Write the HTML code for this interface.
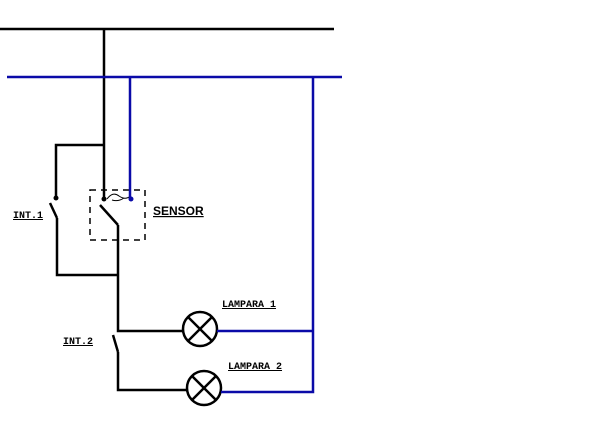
<!DOCTYPE html>
<html><head><style>body{margin:0;background:#fff}svg{display:block}</style></head><body>
<svg width="600" height="423" viewBox="0 0 600 423" xmlns="http://www.w3.org/2000/svg">
<g fill="none" stroke="#000" stroke-width="2.5">
<line x1="0" y1="29" x2="334" y2="29"/>
<line x1="104" y1="29" x2="104" y2="199"/>
<polyline points="104,145 56,145 56,198"/>
<line x1="50" y1="203" x2="57" y2="218"/>
<polyline points="57,218 57,275 118,275"/>
<line x1="100" y1="205" x2="118" y2="225"/>
<polyline points="118,225 118,331 183,331"/>
<line x1="113" y1="335" x2="118" y2="352"/>
<polyline points="118,352 118,390 187,390"/>
<circle cx="200" cy="329" r="17"/>
<line x1="188" y1="317" x2="212" y2="341"/>
<line x1="212" y1="317" x2="188" y2="341"/>
<circle cx="204" cy="388" r="17"/>
<line x1="192" y1="376" x2="216" y2="400"/>
<line x1="216" y1="376" x2="192" y2="400"/>
</g>
<g fill="none" stroke="#000" stroke-width="1.5" stroke-dasharray="6,5">
<rect x="90" y="190" width="55" height="50"/>
</g>
<path d="M107,199 q6,-8 12,-3 q6,4 10,1 M112,200 q6,2 12,-2" fill="none" stroke="#000" stroke-width="1"/>
<g fill="none" stroke="#0a0aa8" stroke-width="2.5">
<line x1="7" y1="77" x2="342" y2="77"/>
<line x1="130" y1="77" x2="130" y2="199"/>
<polyline points="313,77 313,392 221,392"/>
<line x1="217" y1="331" x2="313" y2="331"/>
</g>
<circle cx="56" cy="198" r="2.5" fill="#000"/>
<circle cx="104" cy="199" r="2.5" fill="#000"/>
<circle cx="131" cy="199" r="2.5" fill="#0a0aa8"/>
<g font-family="Liberation Mono, monospace" font-size="10" font-weight="bold" fill="#000" text-decoration="underline">
<text x="13" y="218">INT.1</text>
<text x="63" y="344">INT.2</text>
<text x="222" y="307">LAMPARA 1</text>
<text x="228" y="369">LAMPARA 2</text>
</g>
<text x="153" y="215" font-family="Liberation Sans, sans-serif" font-weight="bold" font-size="12" text-decoration="underline" fill="#000">SENSOR</text>
</svg>
</body></html>
